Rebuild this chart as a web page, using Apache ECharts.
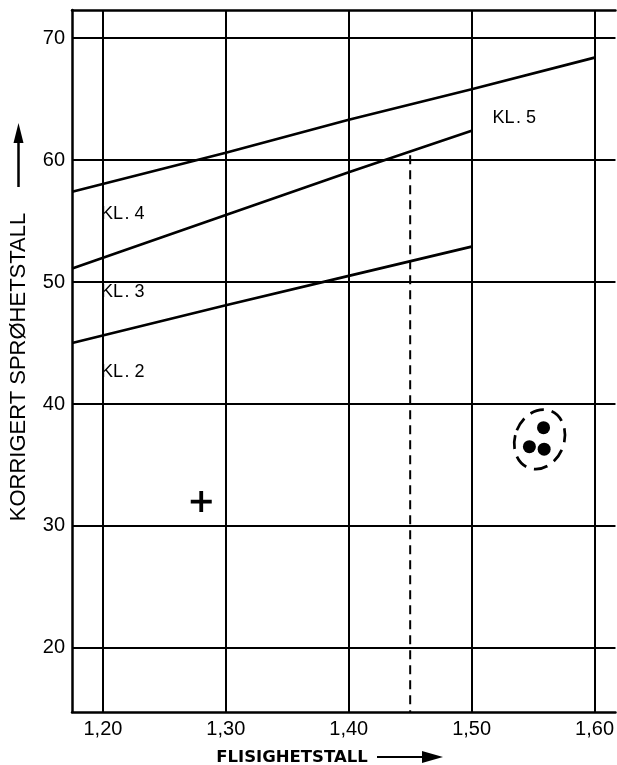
<!DOCTYPE html>
<html><head><meta charset="utf-8">
<script src="https://cdn.jsdelivr.net/npm/echarts@6/dist/echarts.min.js"></script>
<style>html,body{margin:0;padding:0;background:#fff}#c{width:617px;height:765px}</style>
</head><body><div id="c"></div>
<script>
// ---- data ----
const xTicks = [1.2, 1.3, 1.4, 1.5, 1.6];
const yTicks = [20, 30, 40, 50, 60, 70];
const xRange = [1.17485, 1.61704];
const yRange = [14.75, 72.3];
const lineKL5 = [[1.175, 57.4], [1.30, 60.6], [1.40, 63.3], [1.50, 65.8], [1.60, 68.4]];
const lineKL4 = [[1.175, 51.1], [1.30, 55.5], [1.40, 59.0], [1.50, 62.4]];
const lineKL3 = [[1.175, 45.0], [1.30, 48.1], [1.40, 50.5], [1.50, 52.9]];
const dashedLine = [[1.45, 60.4], [1.45, 14.75]];
const classLabels = ['KL\u200A. 5', 'KL\u200A. 4', 'KL\u200A. 3', 'KL\u200A. 2'];
const classLabelX = [1.5146, 1.196, 1.196, 1.196];
const classLabelY = [63.48, 55.57, 49.18, 42.58];
const plusPoint = [[1.28, 32.0]];
const dotPoints = [[1.5585, 38.06], [1.547, 36.5], [1.559, 36.3]];
const clusterCenter = [[1.5553, 37.1]];

const chart = echarts.init(document.getElementById('c'), null, {renderer: 'canvas'});
const black = '#000';
const tickFont = {fontFamily: 'Liberation Sans, Arial, sans-serif', fontSize: 20, color: black};
const frame = {show: true, lineStyle: {color: black, width: 2.5}};

const option = {
  animation: false,
  backgroundColor: '#fff',
  grid: {left: 72, right: 0, top: 10, bottom: 53},
  xAxis: [{
    type: 'value', min: xRange[0], max: xRange[1], position: 'bottom',
    axisLine: frame, axisTick: {show: false}, splitLine: {show: false},
    axisLabel: Object.assign({customValues: xTicks, margin: 7, formatter: v => v.toFixed(2).replace('.', ',')}, tickFont)
  }, {
    type: 'value', min: xRange[0], max: xRange[1], position: 'top',
    axisLine: frame, axisTick: {show: false}, splitLine: {show: false}, axisLabel: {show: false}
  }],
  yAxis: {
    type: 'value', min: yRange[0], max: yRange[1],
    axisLine: frame, axisTick: {show: false}, splitLine: {show: false},
    axisLabel: Object.assign({customValues: yTicks, margin: 7, formatter: v => String(v)}, tickFont)
  },
  series: [
    { // vertical grid lines
      type: 'line', data: [], z: 1, silent: true,
      markLine: {silent: true, symbol: ['none', 'none'], label: {show: false},
        lineStyle: {type: 'solid', color: black, width: 2},
        data: xTicks.map(v => ({xAxis: v}))}
    },
    { // class labels
      type: 'scatter', z: 2, symbolSize: 0, silent: true, itemStyle: {opacity: 1},
      data: classLabels.map((t, i) => ({name: t, value: [classLabelX[i], classLabelY[i]]})),
      label: {show: true, position: 'right', distance: 0, formatter: p => p.name,
        fontFamily: 'Liberation Sans, Arial, sans-serif', fontSize: 18, color: black, opacity: 1,
        backgroundColor: '#fff', padding: [7, 3, 6, 3], align: 'left', verticalAlign: 'middle'}
    },
    { // horizontal grid lines
      type: 'line', data: [], z: 3, silent: true,
      markLine: {silent: true, symbol: ['none', 'none'], label: {show: false},
        lineStyle: {type: 'solid', color: black, width: 2},
        data: yTicks.map(v => ({yAxis: v}))}
    },
    {type: 'line', z: 4, data: lineKL5, symbol: 'none', lineStyle: {color: black, width: 2.7}},
    {type: 'line', z: 4, data: lineKL4, symbol: 'none', lineStyle: {color: black, width: 2.7}},
    {type: 'line', z: 4, data: lineKL3, symbol: 'none', lineStyle: {color: black, width: 2.7}},
    {type: 'line', z: 4, data: dashedLine, symbol: 'none', lineStyle: {color: black, width: 2, type: [9, 6]}},
    {type: 'scatter', z: 5, data: plusPoint, symbol: 'path://M8.6,0h3.8v8.6h8.6v3.8h-8.6v8.6h-3.8v-8.6h-8.6v-3.8h8.6z', symbolSize: 21, itemStyle: {color: black, opacity: 1}},
    {type: 'scatter', z: 5, data: dotPoints, symbol: 'circle', symbolSize: 13, itemStyle: {color: black, opacity: 1}},
    {
      type: 'custom', z: 5, data: clusterCenter, silent: true,
      renderItem: (params, api) => {
        const p = api.coord([api.value(0), api.value(1)]);
        return {type: 'ellipse', x: p[0], y: p[1], rotation: -0.38,
          shape: {cx: 0, cy: 0, rx: 24.5, ry: 30.5},
          style: {fill: 'none', stroke: black, lineWidth: 2.7, lineDash: [14, 8]}};
      }
    }
  ],
  graphic: [
    {type: 'text', x: 19, y: 367, rotation: Math.PI / 2,
      style: {text: 'KORRIGERT SPRØHETSTALL', fontFamily: 'Liberation Sans, Arial, sans-serif', fontSize: 22, fill: black, textAlign: 'center', textVerticalAlign: 'middle'}},
    {type: 'line', shape: {x1: 18.5, y1: 187, x2: 18.5, y2: 140}, style: {stroke: black, lineWidth: 2.5}},
    {type: 'polygon', shape: {points: [[13.5, 143], [23.5, 143], [18.5, 123]]}, style: {fill: black}},
    {type: 'text', x: 292, y: 757.5,
      style: {text: 'FLISIGHETSTALL', fontFamily: 'DejaVu Sans, sans-serif', fontWeight: 'bold', fontSize: 16.5, fill: black, textAlign: 'center', textVerticalAlign: 'middle'}},
    {type: 'line', shape: {x1: 377, y1: 757, x2: 426, y2: 757}, style: {stroke: black, lineWidth: 2.2}},
    {type: 'polygon', shape: {points: [[422, 751], [422, 763], [443, 757]]}, style: {fill: black}}
  ]
};
chart.setOption(option);
</script>
</body></html>
